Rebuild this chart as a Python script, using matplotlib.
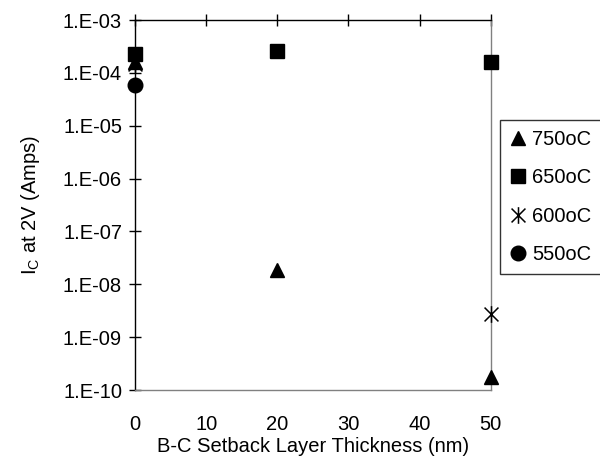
import matplotlib
matplotlib.use("Agg")
import matplotlib.pyplot as plt
from matplotlib.path import Path
from matplotlib.ticker import FuncFormatter, FixedLocator
import math

plt.rcParams['font.family'] = ['Liberation Sans', 'DejaVu Sans']

series_names = ["750oC", "650oC", "600oC", "550oC"]
x_750 = [0, 20, 50]
y_750 = [1.6e-4, 1.9e-8, 1.8e-10]
x_650 = [0, 20, 50]
y_650 = [2.3e-4, 2.6e-4, 1.6e-4]
x_600 = [0, 50]
y_600 = [1.5e-4, 2.7e-9]
x_550 = [0]
y_550 = [6.0e-5]

x_ticks = [0, 10, 20, 30, 40, 50]
y_ticks = [1e-10, 1e-9, 1e-8, 1e-7, 1e-6, 1e-5, 1e-4, 1e-3]

FS = 14.5

star = Path([(-1, -1), (1, 1), (-1, 1), (1, -1), (0, -1.2), (0, 1.2)],
            [Path.MOVETO, Path.LINETO, Path.MOVETO, Path.LINETO, Path.MOVETO, Path.LINETO])

fig = plt.figure(figsize=(6, 4.66), dpi=100)
ax = fig.add_axes([0.225, 0.163, 0.593, 0.794])

ax.plot(x_750, y_750, linestyle='none', marker='^', color='black', markersize=10.5, clip_on=False, label=series_names[0], zorder=3)
ax.plot(x_650, y_650, linestyle='none', marker='s', color='black', markersize=9.5, clip_on=False, label=series_names[1], zorder=4)
ax.plot(x_600, y_600, linestyle='none', marker=star, color='black', markerfacecolor='none', markersize=12, markeredgewidth=1.1, clip_on=False, label=series_names[2], zorder=5)
ax.plot(x_550, y_550, linestyle='none', marker='o', color='black', markersize=10.5, clip_on=False, label=series_names[3], zorder=3)

ax.set_yscale('log')
ax.set_xlim(0, 50)
ax.set_ylim(1e-10, 1e-3)
ax.xaxis.set_major_locator(FixedLocator(x_ticks))
ax.yaxis.set_major_locator(FixedLocator(y_ticks))
ax.yaxis.set_minor_locator(FixedLocator([]))

def yfmt(v, pos):
    e = int(round(math.log10(v)))
    return "1.E-%02d" % (-e)
ax.yaxis.set_major_formatter(FuncFormatter(yfmt))

ax.tick_params(axis='x', top=True, bottom=False, labeltop=False, labelbottom=True,
               direction='inout', length=8.6, width=1, labelsize=FS, pad=14, color='black')
ax.tick_params(axis='y', left=True, right=False, direction='inout', length=8.6, width=1,
               labelsize=FS, pad=5, color='black')

for s in ['top', 'left']:
    ax.spines[s].set_color('black')
    ax.spines[s].set_linewidth(1)
for s in ['bottom', 'right']:
    ax.spines[s].set_color('#808080')
    ax.spines[s].set_linewidth(1)

ax.set_xlabel("B-C Setback Layer Thickness (nm)", fontsize=FS, labelpad=2)
ax.set_ylabel(r"I$_\mathregular{C}$ at 2V (Amps)", fontsize=FS)
ax.yaxis.set_label_coords(-0.26, 0.5)

leg = fig.legend(loc='upper left', bbox_to_anchor=(0.833, 0.742), frameon=True, fancybox=False,
                 edgecolor='black', fontsize=FS, handlelength=0.8, handletextpad=0.3,
                 labelspacing=0.95, borderpad=0.5, borderaxespad=0)
leg.get_frame().set_linewidth(1)

fig.savefig("out.png", dpi=100)
